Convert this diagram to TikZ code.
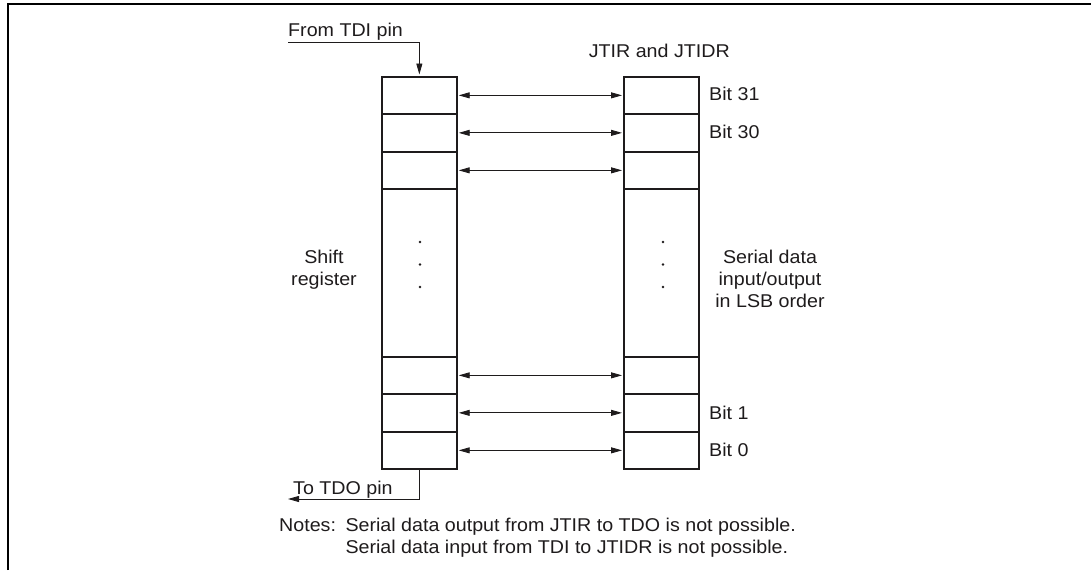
\documentclass[tikz,border=0pt]{standalone}
\usepackage{fontspec}
\setmainfont{Liberation Sans}[FakeStretch=1.063]
\usetikzlibrary{arrows.meta}
\definecolor{ink}{RGB}{30,27,28}
\begin{document}
\begin{tikzpicture}[x=1pt,y=-1pt,
  cell/.style={draw=ink, line width=2.2pt, minimum width=74.5pt, minimum height=37.5pt, inner sep=0pt, anchor=north west},
  bigcell/.style={cell, minimum height=167.5pt},
  txt/.style={text=ink, font=\fontsize{18.5}{22}\selectfont, inner sep=0pt},
  biarrow/.style={draw=ink, line width=0.9pt, {Triangle[length=11pt,width=6pt]}-{Triangle[length=11pt,width=6pt]}, shorten <=1pt, shorten >=1pt},
  inarrow/.style={draw=ink, line width=0.9pt, -{Triangle[length=11pt,width=6pt]}},
  dotn/.style={circle, fill=ink, inner sep=0pt, minimum size=2.6pt}
]
\useasboundingbox (0,0) rectangle (1091,570);
% frame
\draw[black, line width=2pt] (8,570) -- (8,4) -- (1091,4);

% left column (shift register)
\node[cell] (L1) at (381,75.5) {};
\node[cell] (L2) at (381,113) {};
\node[cell] (L3) at (381,150.5) {};
\node[bigcell] (LM) at (381,188) {};
\node[cell] (L4) at (381,355.5) {};
\node[cell] (L5) at (381,393) {};
\node[cell] (L6) at (381,430.5) {};

% right column (JTIR / JTIDR)
\node[cell] (R1) at (623,75.5) {};
\node[cell] (R2) at (623,113) {};
\node[cell] (R3) at (623,150.5) {};
\node[bigcell] (RM) at (623,188) {};
\node[cell] (R4) at (623,355.5) {};
\node[cell] (R5) at (623,393) {};
\node[cell] (R6) at (623,430.5) {};

% bidirectional arrows
\draw[biarrow] (L1.east) -- (R1.west);
\draw[biarrow] (L2.east) -- (R2.west);
\draw[biarrow] (L3.east) -- (R3.west);
\draw[biarrow] (L4.east) -- (R4.west);
\draw[biarrow] (L5.east) -- (R5.west);
\draw[biarrow] (L6.east) -- (R6.west);

% dots
\node[dotn] (dl1) at (420,242) {};
\node[dotn] (dl2) at (420,264.5) {};
\node[dotn] (dl3) at (420,287) {};
\node[dotn] (dr1) at (663,242) {};
\node[dotn] (dr2) at (663,264.5) {};
\node[dotn] (dr3) at (663,287) {};

% TDI / TDO
\coordinate (tdi) at (288,42);
\coordinate (tdo) at (288,499);
\draw[inarrow, shorten >=1pt] (tdi) -| (L1.north);
\draw[inarrow] (L6.south) |- (tdo);
\node[txt, anchor=base west] (from) at (288,36.7) {From TDI pin};
\node[txt, anchor=base west] (to) at (293,494) {To TDO pin};

% labels
\node[txt, anchor=base east] (jt) at (730,57) {JTIR and JTIDR};
\node[txt, anchor=base west] (b31) at (709,100.5) {Bit 31};
\node[txt, anchor=base west] (b30) at (709,138) {Bit 30};
\node[txt, anchor=base west] (b1) at (709,419) {Bit 1};
\node[txt, anchor=base west] (b0) at (709,456) {Bit 0};
\node[txt, anchor=base] (sr1) at (324,263.5) {Shift};
\node[txt, anchor=base] (sr2) at (324,285.5) {register};
\node[txt, anchor=base] (sd1) at (770,263.5) {Serial data};
\node[txt, anchor=base] (sd2) at (770,285.5) {input/output};
\node[txt, anchor=base] (sd3) at (770,307.5) {in LSB order};

% notes
\node[txt, anchor=base west] (nt) at (279,531) {Notes:};
\node[txt, anchor=base west] (n1) at (345.3,531) {Serial data output from JTIR to TDO is not possible.};
\node[txt, anchor=base west] (n2) at (345.3,553.5) {Serial data input from TDI to JTIDR is not possible.};
\end{tikzpicture}
\end{document}
